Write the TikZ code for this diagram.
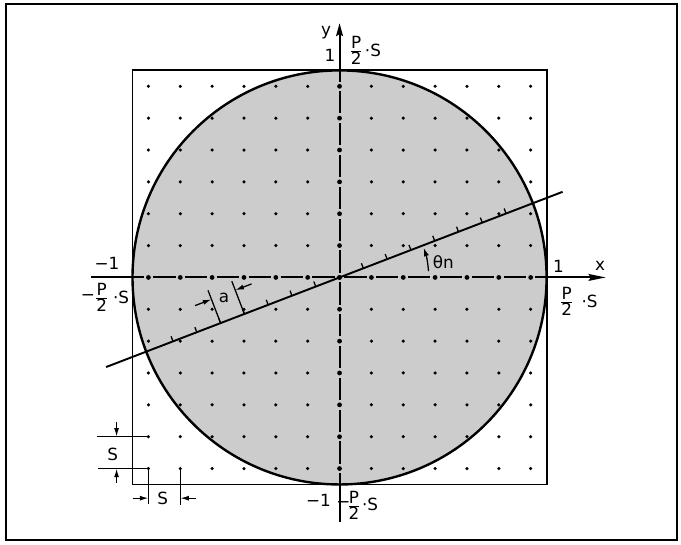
\documentclass[tikz,border=0pt]{standalone}
\usepackage{fontspec}
\setmainfont{DejaVu Sans}
\usetikzlibrary{arrows.meta,calc}
\begin{document}
\begin{tikzpicture}[x=0.7cm,y=0.7cm,
  lbl/.style={font=\fontsize{10.5}{11}\selectfont, inner sep=0pt},
  framebox/.style={line width=1.2pt},
  sqbox/.style={line width=1.2pt},
  circline/.style={line width=1.5pt},
  circfill/.style={fill=black!20},
  axline/.style={line width=1.2pt},
  incline/.style={line width=1.2pt},
  tickline/.style={line width=0.8pt},
  dimline/.style={line width=0.8pt},
  dimarrow/.style={line width=0.8pt,-{Latex[length=1.9mm,width=1.1mm]}},
  xarrow/.style={-{Stealth[length=3.8mm,width=1.5mm,inset=0.5mm]}},
  yarrow/.style={-{Stealth[length=2.8mm,width=1.5mm,inset=0.4mm]}},
  griddot/.style={fill=black}
]
\useasboundingbox (-10.66,-8.37) rectangle (10.72,8.71);
% outer frame
\draw[framebox] (-10.47,-8.25) rectangle (10.6,8.58);
% circle fill
\fill[circfill] (0,0) circle (6.5);
% grid dots
\foreach \i in {-6,...,6} {\foreach \j in {-6,...,6} {\fill[griddot] (\i,\j) circle (0.055);}}
% square and circle
\draw[sqbox] (-6.5,-6.5) rectangle (6.5,6.5);
\draw[circline] (0,0) circle (6.5);
% coordinates
\coordinate (O) at (0,0);
\coordinate (XL) at (-7.8,0);
\coordinate (XE) at (-6.5,0);
\coordinate (XW) at (6.5,0);
\coordinate (XR) at (8.36,0);
\coordinate (YB) at (0,-7.68);
\coordinate (YS) at (0,-6.5);
\coordinate (YN) at (0,6.5);
\coordinate (YT) at (0,7.98);
% x axis
\draw[axline] (XL) -- (XE);
\draw[axline,xarrow] (XW) -- (XR);
\draw[axline] (XE) -- (-6.15,0);
\draw[axline] (6.15,0) -- (XW);
\foreach \k in {-6,...,5} {\draw[axline] (\k+0.15,0) -- (\k+0.85,0);}
% y axis
\draw[axline] (YB) -- (YS);
\draw[axline,yarrow] (YN) -- (YT);
\draw[axline] (YS) -- (0,-6.15);
\draw[axline] (0,6.15) -- (YN);
\foreach \k in {-6,...,5} {\draw[axline] (0,\k+0.15) -- (0,\k+0.85);}
% bolder dots on the axes
\foreach \k in {-6,...,6} {\fill[griddot] (\k,0) circle (0.075); \fill[griddot] (0,\k) circle (0.075);}
% inclined line
\coordinate (L1) at (201:7.85);
\coordinate (L2) at (21:7.5);
\draw[incline] (L1) -- (L2);
\foreach \k in {-7,...,-1,1,2,...,7} {\draw[tickline] (21:\k*0.8) -- ++(111:0.17);}
% dimension a
\coordinate (A1) at (21:-4.0);
\coordinate (A2) at (21:-3.2);
\draw[dimline] (A1) -- ++(111:1.1) coordinate (A1t);
\draw[dimline] (A2) -- ++(111:1.1) coordinate (A2t);
\coordinate (A1m) at ($(A1)+(111:0.8)$);
\coordinate (A2m) at ($(A2)+(111:0.8)$);
\draw[dimarrow] ($(A1m)+(21:-0.55)$) -- (A1m);
\draw[dimarrow] ($(A2m)+(21:0.55)$) -- (A2m);
\node[lbl] (alab) at ($(21:-3.62)+(111:0.7)$) {a};
% theta arc
\draw[dimline,-{Latex[length=1.9mm,width=1.1mm]}] (4:2.8) arc (4:19.5:2.8);
\node[lbl] (thlab) at (3.26,0.47) {θn};
% axis labels
\node[lbl] (ylab) at (-0.42,7.7) {y};
\node[lbl] (ytop1) at (-0.3,6.98) {1};
\node[lbl] (ytopf) at (0.52,7.12) {\(\frac{\mbox{P}}{\mbox{2}}\)};
\node[lbl] (ytops) at (1.05,7.12) {·S};
\node[lbl] (xlab) at (8.18,0.36) {x};
\node[lbl] (xr1) at (6.87,0.36) {1};
\node[lbl] (xrf) at (7.13,-0.76) {\(\frac{\mbox{P}}{\mbox{2}}\)};
\node[lbl] (xrs) at (7.85,-0.74) {·S};
\node[lbl] (xl1) at (-7.3,0.44) {−1};
\node[lbl] (xlm) at (-7.9,-0.62) {−};
\node[lbl] (xlf) at (-7.47,-0.64) {\(\frac{\mbox{P}}{\mbox{2}}\)};
\node[lbl] (xls) at (-6.86,-0.62) {·S};
\node[lbl] (yb1) at (-0.66,-6.99) {−1};
\node[lbl] (ybm) at (0.12,-7.12) {−};
\node[lbl] (ybf) at (0.45,-7.17) {\(\frac{\mbox{P}}{\mbox{2}}\)};
\node[lbl] (ybs) at (0.96,-7.14) {·S};
% S dimensions
\coordinate (V1) at (-6,-5);
\coordinate (V2) at (-6,-6);
\coordinate (V3) at (-5,-6);
\draw[dimline] (-7.62,-5) -- (V1);
\draw[dimline] (-7.58,-6) -- (V2);
\draw[dimarrow] (-7.0,-4.55) -- (-7.0,-5);
\draw[dimarrow] (-7.0,-6.45) -- (-7.0,-6);
\node[lbl] (sv) at (-7.12,-5.55) {S};
\draw[dimline] (V2) -- (-6,-7.1);
\draw[dimline] (V3) -- (-5,-7.15);
\draw[dimarrow] (-6.5,-6.93) -- (-6,-6.93);
\draw[dimarrow] (-4.5,-6.93) -- (-5,-6.93);
\node[lbl] (sh) at (-5.55,-6.95) {S};
\end{tikzpicture}
\end{document}
